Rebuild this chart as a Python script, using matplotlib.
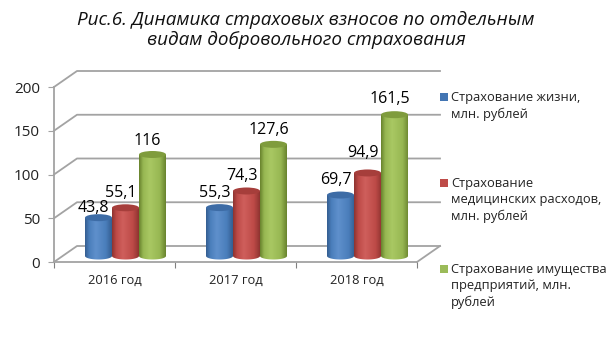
import numpy as np
import matplotlib
matplotlib.use('Agg')
import matplotlib.pyplot as plt
from matplotlib.colors import to_rgb
from matplotlib.patches import Ellipse, PathPatch, Rectangle
from matplotlib.path import Path

## data
years = ['2016 год', '2017 год', '2018 год']
life = [43.8, 55.3, 69.7]
medical = [55.1, 74.3, 94.9]
property_ins = [116, 127.6, 161.5]
life_labels = ['43,8', '55,3', '69,7']
medical_labels = ['55,1', '74,3', '94,9']
property_labels = ['116', '127,6', '161,5']
yticks = [0, 50, 100, 150, 200]
legend_names = ['Страхование жизни,\nмлн. рублей',
                'Страхование\nмедицинских расходов,\nмлн. рублей',
                'Страхование имущества\nпредприятий, млн.\nрублей']
title = 'Рис.6. Динамика страховых взносов по отдельным\nвидам добровольного страхования'

W, H = 613, 362
plt.rcParams['font.family'] = 'Open Sans'
fig = plt.figure(figsize=(W / 100, H / 100), dpi=100, facecolor='white')

# front plane of the fake 3d box
ax = fig.add_axes([54 / W, 1 - 262 / H, 363 / W, 175 / H])
px_x = 3 / 363
px_y = 200 / 175

grid_col = '#a3a3a3'
dx = 23 * px_x
dy = 16 * px_y
for v in yticks:
    ax.plot([0, dx, 3 + dx], [v, v + dy, v + dy], color=grid_col, lw=1.3, clip_on=False, zorder=1)
ax.plot([3, 3 + dx], [0, dy], color=grid_col, lw=1.3, clip_on=False, zorder=1)

for s in ['top', 'right']:
    ax.spines[s].set_visible(False)
for s in ['left', 'bottom']:
    ax.spines[s].set_color(grid_col)
    ax.spines[s].set_linewidth(1.3)
ax.patch.set_alpha(0)
ax.set_yticks(yticks)
ax.set_xticks([0, 1, 2, 3])
ax.set_xticklabels([])
ax.tick_params(axis='y', length=4, color=grid_col, labelsize=11, labelcolor='#222222', pad=6)
ax.tick_params(axis='x', length=4, color='#808080', direction='out')
for i, y in enumerate(years):
    ax.text(i + 0.5, -18 * px_y, y, ha='center', va='center', fontsize=9.3, color='#222222', clip_on=False)


def cylinder(xc, val, cols, label, lab_dy):
    w = 27 * px_x
    base = 6 * px_y
    eh = 7 * px_y
    x0, x1 = xc - w / 2, xc + w / 2
    top = base + val
    # horizontal shading, clipped to the cylinder outline
    t = np.linspace(0, 1, 40)
    dark, mid, light = [np.array(to_rgb(c)) for c in cols[:3]]
    grad = np.zeros((1, 40, 3))
    for k in range(3):
        grad[0, :, k] = np.interp(t, [0, 0.15, 0.4, 0.78, 1], [dark[k], mid[k], light[k], mid[k], dark[k]])
    im = ax.imshow(grad, extent=(x0, x1, base - eh / 2, top), aspect='auto', zorder=3, interpolation='bilinear')
    a = np.linspace(np.pi, 2 * np.pi, 30)
    xs = np.r_[xc + w / 2 * np.cos(a), x1, x0]
    ys = np.r_[base + eh / 2 * np.sin(a), top, top]
    clip = PathPatch(Path(np.c_[xs, ys]), fc='none', ec='none', transform=ax.transData)
    ax.add_patch(clip)
    im.set_clip_path(clip)
    ax.add_patch(Ellipse((xc, top), w, eh, fc=cols[3], ec='none', zorder=4))
    ax.text(xc - 5 * px_x, top + lab_dy * px_y, label, ha='center', va='center', fontsize=11.5,
            color='black', zorder=6)


series = [
    (life, life_labels, -27, ('#355f92', '#4a7ebb', '#5f90cc', '#3d6ca6'), '#4375b3', [10, 15, 15]),
    (medical, medical_labels, 0, ('#8f3431', '#bd4a47', '#cf5f5c', '#a63e3b'), '#be4b48', [15, 15, 20]),
    (property_ins, property_labels, 27, ('#6a852f', '#97b752', '#a9c863', '#7f9c3d'), '#9bbb59', [14, 14, 16]),
]
group_c = [125.5, 246.5, 367.5]
for vals, labs, off, cols, _, lab_off in series:
    for i, v in enumerate(vals):
        cylinder((group_c[i] + off - 54) * px_x, v, cols, labs[i], lab_off[i])
ax.set_xlim(0, 3)
ax.set_ylim(0, 200)

# legend
leg_y = [97, 183, 269]
for s, name, yy in zip(series, legend_names, leg_y):
    fig.add_artist(Rectangle((440 / W, 1 - (yy + 4) / H), 8 / W, 8 / H, transform=fig.transFigure,
                             fc=s[4], ec='none'))
    fig.text(451 / W, 1 - (yy - 6) / H, name, ha='left', va='top', fontsize=9.3, color='#222222', linespacing=1.33)

fig.text(306 / W, 1 - 30 / H, title, ha='center', va='center', fontsize=13.6, style='italic',
         color='#111111', linespacing=1.2)

fig.savefig('out.png', dpi=100)
